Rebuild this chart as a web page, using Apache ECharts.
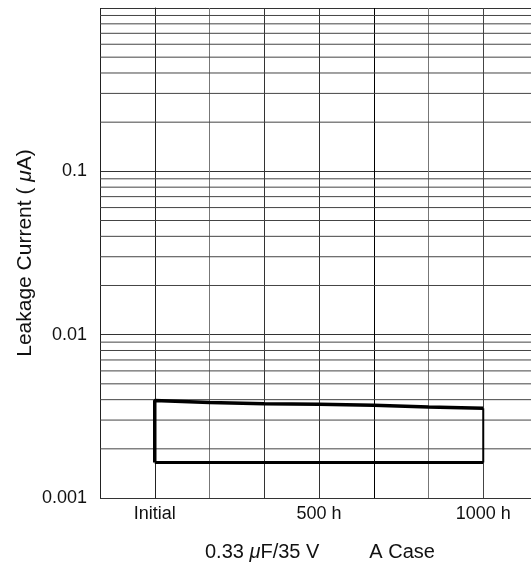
<!DOCTYPE html>
<html>
<head>
<meta charset="utf-8">
<script src="https://cdn.jsdelivr.net/npm/echarts@6/dist/echarts.min.js"></script>
<style>
  html, body { margin: 0; padding: 0; background: #fff; }
  #chart { width: 531px; height: 564px; }
</style>
</head>
<body>
<div id="chart"></div>
<script>
// time steps: 0 = Initial, 3 = 500 h, 6 = 1000 h
const xSteps     = [0, 1, 2, 3, 4, 5, 6];
const upperLimit = [0.00395, 0.00384, 0.00378, 0.00375, 0.0037, 0.00361, 0.00354];
const lowerLimit = [0.00165, 0.00165, 0.00165, 0.00165, 0.00165, 0.00165, 0.00165];
const xTickPos    = [0, 3, 6];
const xTickLabels = ['Initial', '500 h', '1000 h'];
const yTickLabels = ['0.001', '0.01', '0.1'];
const decades     = [0.001, 0.01, 0.1];
const minorMults  = [2, 3, 4, 5, 6, 7, 8, 9];

(function(){
  const font = '"Liberation Sans", Arial, Helvetica, sans-serif';
  const last = xSteps.length - 1;

  // box outline: left edge + upper trace, bottom trace, right edge
  const upper = [[xSteps[0], lowerLimit[0]]].concat(xSteps.map((x, i) => [x, upperLimit[i]]));
  const lower = xSteps.map((x, i) => [x, lowerLimit[i]]);
  const right = [[xSteps[last], lowerLimit[last]], [xSteps[last], upperLimit[last]]];

  // log minor grid lines 2..9 in each decade
  const minorLines = [];
  decades.forEach(d => minorMults.forEach(m => minorLines.push([0, +(d * m).toPrecision(3)])));

  const chart = echarts.init(document.getElementById('chart'), null, { renderer: 'canvas' });
  chart.setOption({
    animation: false,
    backgroundColor: '#fff',
    textStyle: { fontFamily: font },
    title: {
      text: '0.33 {i|μ}F/35 V         A Case',
      left: 200, top: 537,
      textStyle: {
        fontFamily: font, fontSize: 20, fontWeight: 'normal', color: '#111',
        rich: { i: { fontFamily: font, fontSize: 20, fontStyle: 'italic', color: '#111' } }
      }
    },
    grid: { left: 100, top: 8, right: -7, bottom: 66, outerBoundsMode: 'none' },
    xAxis: {
      type: 'value', min: -1, max: 7, interval: 1,
      axisLine: { show: false },
      axisTick: { show: false },
      axisLabel: {
        margin: 7, fontSize: 18, color: '#111', fontFamily: font,
        formatter: v => { const i = xTickPos.indexOf(v); return i >= 0 ? xTickLabels[i] : ''; }
      },
      splitLine: {
        show: true,
        lineStyle: { width: 1, color: ['#222', '#333', '#777', '#333', '#333', '#000', '#777', '#444', '#444'] }
      }
    },
    yAxis: {
      type: 'log', logBase: 10, min: 0.001, max: 1,
      name: 'Leakage Current ( {i|μ}A)',
      nameLocation: 'middle', nameRotate: 90, nameGap: 64, nameMoveOverlap: false,
      nameTextStyle: {
        fontFamily: font, fontSize: 21, color: '#111',
        rich: { i: { fontFamily: font, fontSize: 21, fontStyle: 'italic', color: '#111' } }
      },
      axisLine: { show: true, lineStyle: { color: '#222', width: 1 } },
      axisTick: { show: false },
      axisLabel: {
        margin: 13, fontSize: 18, color: '#111', fontFamily: font,
        formatter: v => { const i = decades.findIndex(d => Math.abs(d - v) < d * 1e-6); return i >= 0 ? yTickLabels[i] : ''; }
      },
      splitLine: { show: true, lineStyle: { color: '#333', width: 1 } }
    },
    series: [
      {
        // minor horizontal grid, placed through the log axis
        type: 'custom', data: minorLines, silent: true, z: 1,
        encode: { x: 0, y: 1 },
        renderItem: (params, api) => {
          const y = api.coord([0, api.value(1)])[1];
          const cs = params.coordSys;
          return { type: 'line', shape: { x1: cs.x, y1: y, x2: cs.x + cs.width, y2: y },
                   style: { stroke: '#444', lineWidth: 1 } };
        }
      },
      { type: 'line', data: upper, symbol: 'none', z: 5, lineStyle: { color: '#000', width: 3.5 } },
      { type: 'line', data: lower, symbol: 'none', z: 5, lineStyle: { color: '#000', width: 3 } },
      { type: 'line', data: right, symbol: 'none', z: 5, lineStyle: { color: '#000', width: 2 } }
    ]
  });
})();
</script>
</body>
</html>
